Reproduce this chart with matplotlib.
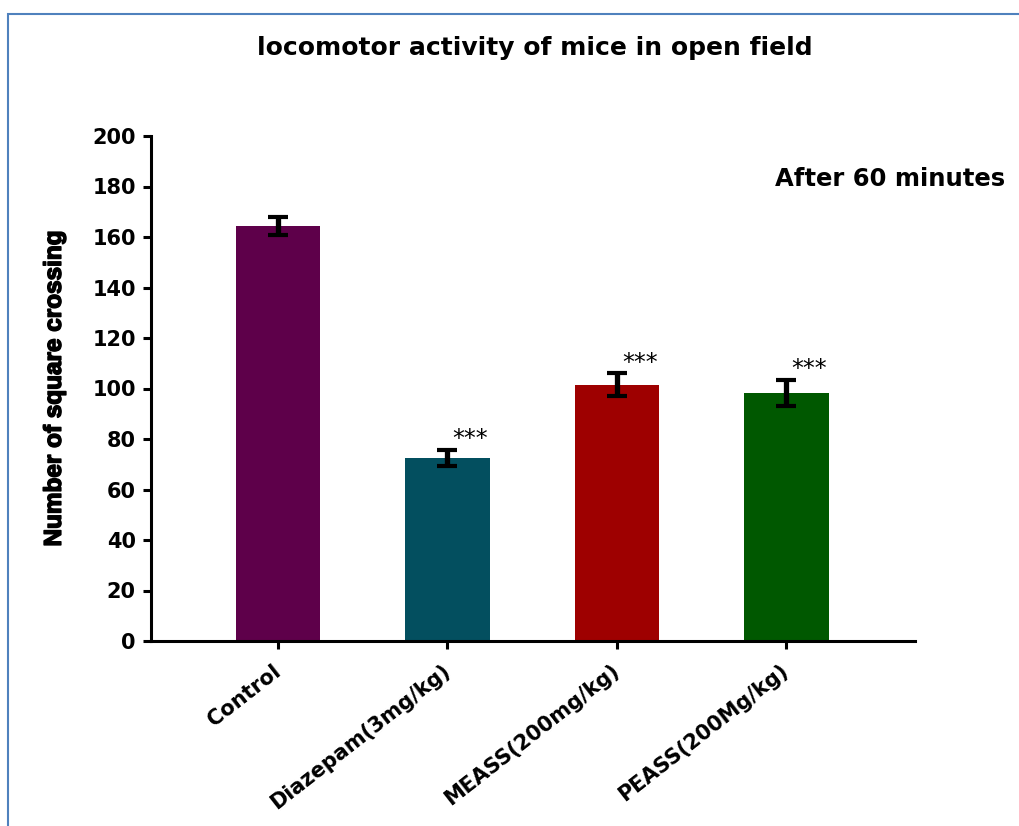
import matplotlib
matplotlib.use("Agg")
import matplotlib.pyplot as plt
import matplotlib.transforms as mtransforms
import matplotlib.patheffects as pe
from matplotlib.patches import Rectangle

categories = ["Control", "Diazepam(3mg/kg)", "MEASS(200mg/kg)", "PEASS(200Mg/kg)"]
means = [164.3, 72.5, 101.5, 98.3]
errors = [3.5, 3.2, 4.5, 5.2]
colors = ["#5E004A", "#034F5F", "#9E0000", "#005800"]
stars = ["", "***", "***", "***"]
yticks = [0, 20, 40, 60, 80, 100, 120, 140, 160, 180, 200]

plt.rcParams['font.family'] = ['DejaVu Sans']

fig = plt.figure(figsize=(10.19, 8.26), dpi=100)
fig.patches.append(Rectangle((8/1019, -0.01), 1.2, 1 - 14/826 + 0.01, transform=fig.transFigure,
                             fill=False, edgecolor="#4F81BD", linewidth=1.5))
ax = fig.add_axes([151/1019, 1 - 641/826, (915 - 151)/1019, (641 - 136)/826])
x = list(range(len(categories)))
ax.bar(x, means, width=0.5, color=colors, zorder=2)
ax.errorbar(x, means, yerr=errors, fmt='none', ecolor='black', elinewidth=3.8,
            capsize=7.5, capthick=3, zorder=3)
for xi, m, e, s in zip(x, means, errors, stars):
    if s:
        ax.annotate(s, xy=(xi, m + e), xytext=(16.5, 2.5), textcoords='offset points',
                    ha='center', va='baseline', fontsize=17)

ax.set_xlim(-0.75, 3.76)
ax.set_ylim(0, 200)
ax.set_yticks(yticks)
ax.set_yticklabels([str(v) for v in yticks], fontsize=15, fontweight='bold')
ax.set_xticks(x)
ax.set_xticklabels(categories, rotation=38, ha='right', va='center', rotation_mode='anchor',
                   fontsize=15, fontweight='bold')
offset = mtransforms.ScaledTranslation(4/100, 0, fig.dpi_scale_trans)
for lab in ax.get_xticklabels():
    lab.set_transform(lab.get_transform() + offset)
for sp in ['top', 'right']:
    ax.spines[sp].set_visible(False)
for sp in ['left', 'bottom']:
    ax.spines[sp].set_linewidth(2.2)
ax.tick_params(axis='y', width=2.2, length=6, pad=5)
ax.tick_params(axis='x', width=2.2, length=6, pad=14)
ylab = ax.set_ylabel("Number of square crossing", fontsize=17.5, fontweight='bold',
                     family=['Liberation Sans'], labelpad=19)
ylab.set_path_effects([pe.withStroke(linewidth=1.1, foreground='black')])

fig.text(535/1019, 1 - 48/826, "locomotor activity of mice in open field", ha='center', va='center',
         fontsize=18, fontweight='bold')
fig.text(1005/1019, 1 - 179/826, "After 60 minutes", ha='right', va='center',
         fontsize=17.5, fontweight='bold')

fig.savefig("out.png", dpi=100)
